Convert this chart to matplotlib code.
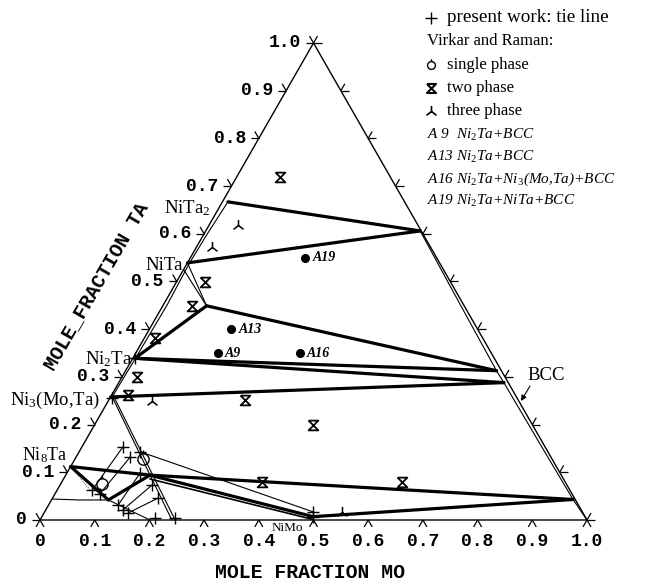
import numpy as np
import matplotlib
matplotlib.use("Agg")
import matplotlib.pyplot as plt
from matplotlib.path import Path
from matplotlib.collections import LineCollection

plt.rcParams['mathtext.fontset'] = 'custom'
plt.rcParams['mathtext.rm'] = 'Liberation Serif'
plt.rcParams['mathtext.it'] = 'Liberation Serif:italic'
plt.rcParams['mathtext.bf'] = 'Liberation Serif:bold'

# ---------------- data: compositions as (x_Mo, x_Ta) ----------------
tick_values = [0.0, 0.1, 0.2, 0.3, 0.4, 0.5, 0.6, 0.7, 0.8, 0.9, 1.0]
tick_labels = ['0', '0.1', '0.2', '0.3', '0.4', '0.5', '0.6', '0.7', '0.8', '0.9', '1.0']

NiTa2 = (0.010, 0.667)
NiTa = (0.000, 0.539)
NiTa_mo = (0.080, 0.449)
Ni2Ta = (0.004, 0.339)
Ni3MoTa = (0.000, 0.258)
Ni8Ta = (0.000, 0.112)
fcc_corner = (0.104, 0.042)
ni3_corner = (0.154, 0.094)
ni3_corner_b = (0.158, 0.086)
NiMo = (0.496, 0.007)
NiMo_b = (0.499, 0.001)
bcc_1 = (0.392, 0.606)
bcc_2 = (0.678, 0.313)
bcc_3 = (0.704, 0.288)
bcc_4 = (0.953, 0.043)

# heavy tie-triangle / tie lines
thick_lines = [
    (NiTa2, bcc_1), (NiTa, bcc_1),
    (NiTa_mo, Ni2Ta), (NiTa_mo, bcc_2),
    (Ni2Ta, bcc_2), (Ni2Ta, bcc_3), (Ni3MoTa, bcc_3),
    (Ni8Ta, ni3_corner), (ni3_corner, bcc_4), (ni3_corner, NiMo),
    (NiMo, bcc_4), (Ni8Ta, fcc_corner), (fcc_corner, ni3_corner),
]

# phase boundaries
bcc_mo = [0.392, 0.544, 0.678, 0.704, 0.844, 0.953, 1.000]
bcc_ta = [0.606, 0.450, 0.313, 0.288, 0.150, 0.043, 0.000]
inter_mo = [0.010, 0.006, 0.004, 0.007, 0.005, 0.004, 0.003]
inter_ta = [0.667, 0.600, 0.539, 0.450, 0.339, 0.300, 0.258]
ni3_mo_a = [0.003, 0.241]
ni3_ta_a = [0.258, 0.000]
ni3_mo_b = [0.009, 0.247]
ni3_ta_b = [0.255, 0.000]
fcc_mo = [0.000, 0.050, 0.104, 0.201]
fcc_ta = [0.044, 0.042, 0.042, 0.000]
mu_wedge = [(NiTa, NiTa_mo), ((0.000, 0.525), NiTa_mo)]
dotted_mo = [0.000, 0.060]
dotted_ta = [0.112, 0.063]

# present work: tie lines (two ends each)
tie_a_mo = [0.064, 0.082, 0.127, 0.141, 0.154, 0.112]
tie_a_ta = [0.063, 0.055, 0.031, 0.021, 0.015, 0.143]
tie_b_mo = [0.075, 0.099, 0.134, 0.168, 0.193, 0.491]
tie_b_ta = [0.153, 0.132, 0.099, 0.073, 0.046, 0.017]
plus_extra_mo = [0.005, 0.004, 0.208, 0.245, 0.496]
plus_extra_ta = [0.255, 0.339, 0.004, 0.004, 0.007]

# Virkar and Raman alloys
single_mo = [0.076, 0.124]
single_ta = [0.075, 0.128]
two_mo = [0.079, 0.052, 0.054, 0.019, 0.027, 0.030, 0.249, 0.400, 0.366, 0.622]
two_ta = [0.719, 0.499, 0.449, 0.382, 0.300, 0.262, 0.252, 0.199, 0.080, 0.080]
three_mo = [0.053, 0.028, 0.080, 0.544]
three_ta = [0.618, 0.572, 0.249, 0.017]

alloy_names = ['A9', 'A13', 'A16', 'A19']
alloy_mo = [0.15, 0.15, 0.30, 0.21]
alloy_ta = [0.35, 0.40, 0.35, 0.55]

# ---------------- figure geometry ----------------
W, H = 662, 580
X0, YB = 40.0, 520.0          # pixel position of the Ni corner
SX, SY = 547.0, 550.8          # pixels per unit (x, y)
R3 = np.sqrt(3) / 2

fig = plt.figure(figsize=(W / 100, H / 100), dpi=100)
ax = fig.add_axes([0, 0, 1, 1])
ax.set_xlim(-X0 / SX, (W - X0) / SX)
ax.set_ylim(-(H - YB) / SY, YB / SY)
ax.axis('off')


def xy(mo, ta):
    mo = np.asarray(mo, float)
    ta = np.asarray(ta, float)
    return mo + ta / 2, ta * R3


def P(px, py):
    return (px - X0) / SX, (YB - py) / SY


def seg(p, q, **kw):
    x, y = xy([p[0], q[0]], [p[1], q[1]])
    ax.plot(x, y, solid_capstyle='round', **kw)


# triangle frame
fx, fy = xy([0, 1, 0, 0], [0, 0, 1, 0])
ax.plot(fx, fy, color='black', lw=1.0)

# edge ticks
TL = 8.0
ticks = []
for v in tick_values:
    for (mo, ta), angs in (((v, 0.0), (240, 300)),
                           ((0.0, v), (180, 120)),
                           ((1 - v, v), (0, 60))):
        x, y = xy(mo, ta)
        for a in angs:
            r = np.radians(a)
            ticks.append([(x, y), (x + TL * np.cos(r) / SX, y + TL * np.sin(r) / SY)])
ax.add_collection(LineCollection(ticks, colors='black', linewidths=0.9))

mono = dict(family='Liberation Mono', weight='bold', fontsize=13)
for v, lab in zip(tick_values, tick_labels):
    x, y = xy(v, 0.0)
    ax.text(x, y - 21 / SY, lab, ha='center', va='center', **mono)
    x, y = xy(0.0, v)
    ax.text(x - 13 / SX, y, lab, ha='right', va='center', **mono)

title = dict(mono, fontsize=14.2)
ax.text(*P(310, 572), 'MOLE FRACTION MO', ha='center', va='center', **title)
ax.text(*P(96, 286), 'MOLE_FRACTION TA', ha='center', va='center',
        rotation=60, rotation_mode='anchor', **title)

# phase boundaries
x, y = xy(bcc_mo, bcc_ta)
ax.plot(x, y, color='black', lw=0.8)
x, y = xy(inter_mo, inter_ta)
ax.plot(x, y, color='black', lw=0.8)
x, y = xy(ni3_mo_a, ni3_ta_a)
ax.plot(x, y, color='black', lw=0.8)
x, y = xy(ni3_mo_b, ni3_ta_b)
ax.plot(x, y, color='black', lw=0.8)
x, y = xy(fcc_mo, fcc_ta)
ax.plot(x, y, color='black', lw=0.8)
x, y = xy(dotted_mo, dotted_ta)
ax.plot(x, y, color='black', lw=0.6, ls=(0, (1, 1.5)))
for p, q in mu_wedge:
    seg(p, q, color='black', lw=0.8)

for p, q in thick_lines:
    seg(p, q, color='black', lw=2.3)
seg(ni3_corner_b, NiMo_b, color='black', lw=1.2)

# tie lines of the present work
for am, at, bm, bt in zip(tie_a_mo, tie_a_ta, tie_b_mo, tie_b_ta):
    seg((am, at), (bm, bt), color='black', lw=0.8)
x, y = xy(tie_a_mo + tie_b_mo + plus_extra_mo, tie_a_ta + tie_b_ta + plus_extra_ta)
ax.plot(x, y, ls='none', marker='+', ms=8, mew=1.0, color='black')

# marker shapes
M, L = Path.MOVETO, Path.LINETO
hourglass = Path([(-1, 1), (1, 1), (-1, -1), (1, -1), (-1, 1)], [M, L, L, L, L])
three_ph = Path([(0, 0), (0, 1), (0, 0), (-0.9, -0.7), (0, 0), (0.9, -0.7)],
                [M, L, M, L, M, L])
circ = Path.unit_circle()
single_ph = Path.make_compound_path(circ, Path([(0, 1), (0, 1.6)], [M, L]))

x, y = xy(single_mo, single_ta)
ax.plot(x, y, ls='none', marker=single_ph, ms=13, mew=1.0, mfc='none', color='black')
x, y = xy(two_mo, two_ta)
ax.plot(x, y, ls='none', marker=hourglass, ms=7, mew=1.3, mfc='none', color='black')
x, y = xy(three_mo, three_ta)
ax.plot(x, y, ls='none', marker=three_ph, ms=8, mew=1.1, mfc='none', color='black')

x, y = xy(alloy_mo, alloy_ta)
ax.plot(x, y, ls='none', marker='o', ms=5.5, color='black')
for name, xi, yi in zip(alloy_names, x, y):
    ax.text(xi + 7 / SX, yi, name, ha='left', va='center', family='Liberation Serif',
            style='italic', weight='bold', fontsize=10)

# phase labels
serif = dict(family='Liberation Serif', fontsize=13.5, color='black')
ax.text(*P(211, 208), r'NiTa$_2$', ha='right', va='center', **serif)
ax.text(*P(183, 266), 'NiTa', ha='right', va='center', **serif)
ax.text(*P(132, 359), r'Ni$_2$Ta', ha='right', va='center', **serif)
ax.text(*P(100, 400), r'Ni$_3$(Mo,Ta)', ha='right', va='center', **serif)
ax.text(*P(68, 455), r'Ni$_8$Ta', ha='right', va='center', family='Liberation Serif',
        fontsize=13)
ax.text(*P(272, 528), 'NiMo', ha='left', va='center', family='Liberation Serif', fontsize=9.5)
ax.text(*P(527, 376), 'BCC', ha='left', va='center', **serif)
ax.annotate('', xy=P(521, 401), xytext=P(530, 386),
            arrowprops=dict(arrowstyle='-|>', color='black', lw=0.8,
                            mutation_scale=8, shrinkA=0, shrinkB=0))

# key
key = dict(family='Liberation Serif', fontsize=12, color='black')
ax.plot(*P(431, 18), marker='+', ms=8, mew=1.0, color='black')
ax.text(*P(447, 18), 'present work: tie line', ha='left', va='center',
        family='Liberation Serif', fontsize=13.8)
ax.text(*P(427, 41), 'Virkar and Raman:', ha='left', va='center', **key)
ax.plot(*P(431, 65), marker=single_ph, ms=9, mew=1.0, mfc='none', color='black')
ax.text(*P(447, 65), 'single phase', ha='left', va='center', **key)
ax.plot(*P(431, 88), marker=hourglass, ms=6.5, mew=1.5, mfc='none', color='black')
ax.text(*P(447, 88), 'two phase', ha='left', va='center', **key)
ax.plot(*P(431, 111), marker=three_ph, ms=8, mew=1.2, mfc='none', color='black')
ax.text(*P(447, 111), 'three phase', ha='left', va='center', **key)
ikey = dict(key, style='italic', fontsize=11)
ax.text(*P(427, 135), r'A 9  Ni$_2$Ta+BCC', ha='left', va='center', **ikey)
ax.text(*P(427, 157), r'A13 Ni$_2$Ta+BCC', ha='left', va='center', **ikey)
ax.text(*P(427, 179), r'A16 Ni$_2$Ta+Ni$_3$(Mo,Ta)+BCC', ha='left', va='center', **ikey)
ax.text(*P(427, 201), r'A19 Ni$_2$Ta+NiTa+BCC', ha='left', va='center', **ikey)

fig.savefig('out.png', dpi=100)
